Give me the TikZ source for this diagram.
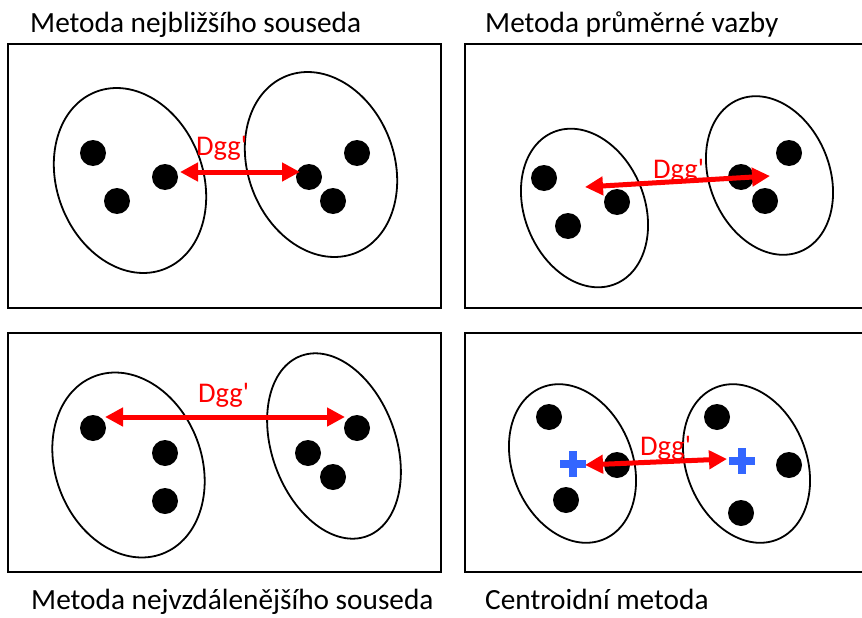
\documentclass[tikz,border=0pt]{standalone}
\usepackage{fontspec}
\setmainfont{Carlito}
\usetikzlibrary{shapes.geometric,shapes.misc,arrows.meta}
\definecolor{distred}{RGB}{255,0,0}
\definecolor{centblue}{RGB}{51,102,255}
\begin{document}
\begin{tikzpicture}[x=1pt,y=-1pt,
  panel/.style={draw=black,line width=2pt},
  cluster/.style={draw=black,line width=1.8pt,ellipse,inner sep=0pt,outer sep=0pt},
  wide/.style={cluster,minimum width=146pt,minimum height=190pt,rotate=21},
  slim/.style={cluster,minimum width=124pt,minimum height=192pt,rotate=20},
  small/.style={cluster,minimum width=120pt,minimum height=164pt,rotate=22},
  pt/.style={circle,fill=black,inner sep=0pt,minimum size=26pt},
  caption/.style={anchor=base west,inner sep=0pt,font=\fontsize{29.3}{35}\selectfont},
  dist/.style={anchor=base west,inner sep=0pt,text=distred,font=\fontsize{28.5}{34}\selectfont},
  link/.style={draw=distred,line width=5pt,
    {Triangle[length=18pt,width=18pt]}-{Triangle[length=18pt,width=18pt]}},
  centroid/.style={cross out,draw=centblue,line width=8pt,minimum size=17.7pt,
    inner sep=0pt,outer sep=0pt,rotate=45}
]
\clip (0,0) rectangle (862,618);

% captions
\node[caption] (t1) at (30,32.5) {Metoda nejbližšího souseda};
\node[caption] (t2) at (485,32.5) {Metoda průměrné vazby};
\node[caption] (t3) at (31,609) {Metoda nejvzdálenějšího souseda};
\node[caption] (t4) at (485,609) {Centroidní metoda};

% frames
\draw[panel] (8,44) rectangle (441,308);
\draw[panel] (465,44) rectangle (875,308);
\draw[panel] (8,333) rectangle (441,572);
\draw[panel] (465,333) rectangle (875,572);

% --- single linkage ---
\node[wide] (c1a) at (130,180.5) {};
\node[wide] (c1b) at (321,164.5) {};
\node[pt] (p1a) at (93,153) {};
\node[pt] (p1b) at (117,201) {};
\node[pt] (p1c) at (165,177) {};
\node[pt] (p1d) at (309,177) {};
\node[pt] (p1e) at (357,153) {};
\node[pt] (p1f) at (333,201) {};
\node[dist] (d1) at (196,155) {Dgg\textquotesingle};
\coordinate (e1a) at (180,172);
\coordinate (e1b) at (300,172);
\draw[link] (e1a) -- (e1b);

% --- average linkage ---
\node[small] (c2a) at (584.5,208) {};
\node[small] (c2b) at (769.5,175.5) {};
\node[pt] (p2a) at (544,178) {};
\node[pt] (p2b) at (568,226) {};
\node[pt] (p2c) at (617,202) {};
\node[pt] (p2d) at (741,177) {};
\node[pt] (p2e) at (789,153) {};
\node[pt] (p2f) at (765,201) {};
\node[dist] (d2) at (653,178) {Dgg\textquotesingle};
\coordinate (e2a) at (585,187);
\coordinate (e2b) at (770,176);
\draw[link] (e2a) -- (e2b);

% --- complete linkage ---
\node[wide] (c3a) at (128.5,465) {};
\node[slim] (c3b) at (334,446) {};
\node[pt] (p3a) at (93,428) {};
\node[pt] (p3b) at (165,453) {};
\node[pt] (p3c) at (165,501) {};
\node[pt] (p3d) at (357,428) {};
\node[pt] (p3e) at (308,453) {};
\node[pt] (p3f) at (333,477) {};
\node[dist] (d3) at (198,402) {Dgg\textquotesingle};
\coordinate (e3a) at (105,417);
\coordinate (e3b) at (345,417);
\draw[link] (e3a) -- (e3b);

% --- centroid method ---
\node[small] (c4a) at (572.5,463.5) {};
\node[small] (c4b) at (746.5,463.5) {};
\node[pt] (p4a) at (549,417) {};
\node[pt] (p4b) at (617,465) {};
\node[pt] (p4c) at (566,500) {};
\node[pt] (p4d) at (717,417) {};
\node[pt] (p4e) at (789,465) {};
\node[pt] (p4f) at (741,513) {};
\node[dist] (d4) at (640,455) {Dgg\textquotesingle};
\coordinate (e4a) at (585,465);
\coordinate (e4b) at (727,459);
\draw[link] (e4a) -- (e4b);
\node[centroid] (m4a) at (573,464) {};
\node[centroid] (m4b) at (742,461) {};
\end{tikzpicture}
\end{document}
